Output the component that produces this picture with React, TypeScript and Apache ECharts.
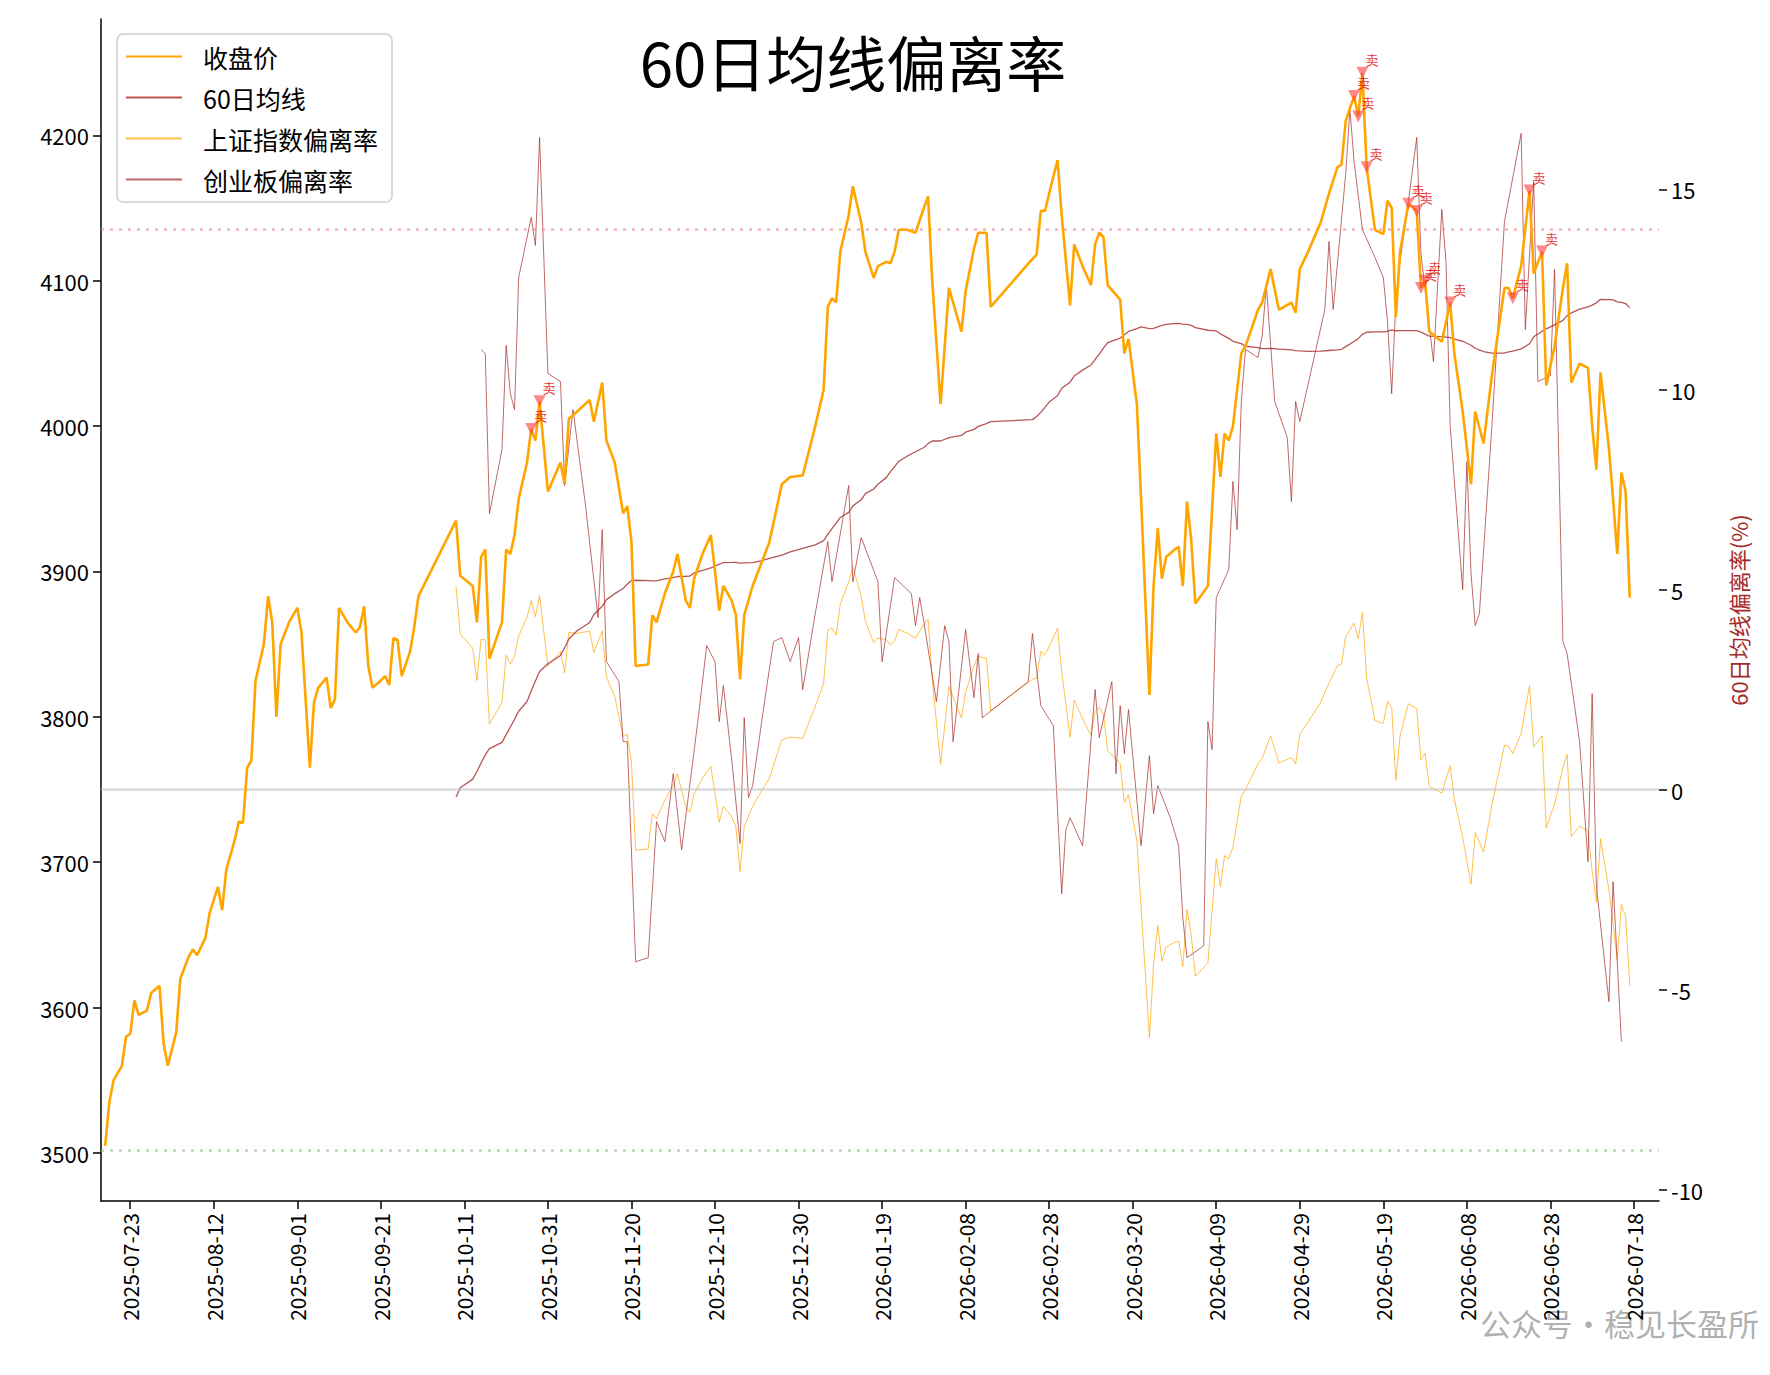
import { useEffect, useRef } from 'react'
import * as echarts from 'echarts'

// 上证指数收盘价 (日期, 收盘)
const closeDates = [
  '2025-07-17', '2025-07-18', '2025-07-19', '2025-07-21', '2025-07-22', '2025-07-23', '2025-07-24', '2025-07-25', '2025-07-27', '2025-07-28', '2025-07-30', '2025-07-31',
  '2025-08-01', '2025-08-03', '2025-08-04', '2025-08-06', '2025-08-07', '2025-08-08', '2025-08-10', '2025-08-11', '2025-08-13', '2025-08-14', '2025-08-15', '2025-08-17',
  '2025-08-18', '2025-08-19', '2025-08-20', '2025-08-21', '2025-08-22', '2025-08-24', '2025-08-25', '2025-08-26', '2025-08-27', '2025-08-28', '2025-08-30',
  '2025-09-01', '2025-09-02', '2025-09-04', '2025-09-05', '2025-09-06', '2025-09-08', '2025-09-09', '2025-09-10', '2025-09-11', '2025-09-13', '2025-09-15', '2025-09-16',
  '2025-09-17', '2025-09-18', '2025-09-19', '2025-09-21', '2025-09-22', '2025-09-23', '2025-09-24', '2025-09-25', '2025-09-26', '2025-09-28', '2025-09-29', '2025-09-30',
  '2025-10-09', '2025-10-10', '2025-10-13', '2025-10-14', '2025-10-15', '2025-10-16', '2025-10-17', '2025-10-20', '2025-10-21', '2025-10-22', '2025-10-23', '2025-10-24',
  '2025-10-26', '2025-10-27', '2025-10-28', '2025-10-29', '2025-10-31', '2025-11-03', '2025-11-04', '2025-11-05', '2025-11-07', '2025-11-10', '2025-11-11', '2025-11-13',
  '2025-11-14', '2025-11-16', '2025-11-18', '2025-11-19', '2025-11-20', '2025-11-21', '2025-11-24', '2025-11-25', '2025-11-26', '2025-11-28', '2025-11-30', '2025-12-01',
  '2025-12-03', '2025-12-04', '2025-12-05', '2025-12-07', '2025-12-09', '2025-12-10', '2025-12-11', '2025-12-12', '2025-12-14', '2025-12-15', '2025-12-16', '2025-12-17',
  '2025-12-19', '2025-12-21', '2025-12-23', '2025-12-26', '2025-12-28', '2025-12-31', '2026-01-03', '2026-01-05', '2026-01-06', '2026-01-07', '2026-01-08', '2026-01-09',
  '2026-01-11', '2026-01-12', '2026-01-14', '2026-01-15', '2026-01-17', '2026-01-18', '2026-01-20', '2026-01-21', '2026-01-22', '2026-01-23', '2026-01-25', '2026-01-27',
  '2026-01-29', '2026-01-30', '2026-01-31', '2026-02-02', '2026-02-04', '2026-02-07', '2026-02-08', '2026-02-10', '2026-02-11', '2026-02-13', '2026-02-14', '2026-02-24',
  '2026-02-25', '2026-02-26', '2026-02-27', '2026-02-28', '2026-03-02', '2026-03-03', '2026-03-05', '2026-03-06', '2026-03-08', '2026-03-10', '2026-03-11', '2026-03-12',
  '2026-03-13', '2026-03-14', '2026-03-17', '2026-03-18', '2026-03-19', '2026-03-21', '2026-03-22', '2026-03-24', '2026-03-25', '2026-03-26', '2026-03-27', '2026-03-28',
  '2026-03-30', '2026-03-31', '2026-04-01', '2026-04-02', '2026-04-03', '2026-04-04', '2026-04-07', '2026-04-09', '2026-04-10', '2026-04-11', '2026-04-12', '2026-04-13',
  '2026-04-15', '2026-04-16', '2026-04-19', '2026-04-20', '2026-04-22', '2026-04-24', '2026-04-27', '2026-04-28', '2026-04-29', '2026-05-01', '2026-05-04', '2026-05-06',
  '2026-05-08', '2026-05-09', '2026-05-10', '2026-05-12', '2026-05-13', '2026-05-14', '2026-05-15', '2026-05-17', '2026-05-19', '2026-05-20', '2026-05-21', '2026-05-22',
  '2026-05-23', '2026-05-25', '2026-05-27', '2026-05-28', '2026-05-29', '2026-05-30', '2026-06-02', '2026-06-04', '2026-06-05', '2026-06-07', '2026-06-09', '2026-06-10',
  '2026-06-12', '2026-06-14', '2026-06-17', '2026-06-18', '2026-06-19', '2026-06-21', '2026-06-23', '2026-06-24', '2026-06-26', '2026-06-27', '2026-06-29', '2026-07-01',
  '2026-07-02', '2026-07-03', '2026-07-05', '2026-07-07', '2026-07-08', '2026-07-09', '2026-07-10', '2026-07-12', '2026-07-13', '2026-07-14', '2026-07-15', '2026-07-16',
  '2026-07-17',
]
const closeValues = [
  3505, 3535, 3550, 3560, 3580, 3582, 3605, 3595, 3598, 3610, 3615, 3575,
  3560, 3583, 3620, 3635, 3640, 3636, 3648, 3665, 3683, 3667, 3695, 3715,
  3728, 3727, 3765, 3770, 3825, 3850, 3883, 3865, 3800, 3850, 3865,
  3875, 3858, 3765, 3810, 3820, 3827, 3806, 3812, 3875, 3865, 3858, 3862,
  3876, 3835, 3820, 3825, 3828, 3822, 3854, 3853, 3828, 3845, 3862, 3883,
  3935, 3897, 3890, 3865, 3910, 3915, 3840, 3865, 3915, 3912, 3925, 3950,
  3975, 3998, 3990, 4017, 3955, 3975, 3960, 4005, 4010, 4018, 4003, 4030,
  3990, 3975, 3940, 3945, 3920, 3835, 3836, 3870, 3865, 3885, 3900, 3912,
  3880, 3875, 3895, 3912, 3925, 3900, 3873, 3890, 3880, 3870, 3826, 3870,
  3890, 3905, 3920, 3960, 3965, 3966, 4000, 4025, 4082, 4088, 4085, 4120,
  4145, 4165, 4140, 4120, 4102, 4110, 4113, 4112, 4120, 4135, 4135, 4133,
  4150, 4158, 4100, 4015, 4095, 4065, 4093, 4122, 4133, 4133, 4082, 4115,
  4118, 4148, 4148, 4160, 4183, 4145, 4083, 4125, 4110, 4097, 4125, 4133,
  4130, 4097, 4087, 4050, 4060, 4015, 3950, 3815, 3890, 3930, 3895, 3910,
  3915, 3917, 3890, 3948, 3922, 3878, 3890, 3995, 3965, 3995, 3990, 4000,
  4050, 4055, 4080, 4085, 4108, 4080, 4085, 4078, 4108, 4120, 4140, 4160,
  4178, 4180, 4210, 4227, 4213, 4243, 4178, 4135, 4132, 4155, 4150, 4075,
  4120, 4153, 4148, 4095, 4100, 4065, 4058, 4085, 4050, 4010, 3960, 4010,
  3988, 4035, 4095, 4095, 4088, 4110, 4162, 4105, 4120, 4028, 4055, 4095,
  4112, 4030, 4043, 4040, 4000, 3970, 4037, 3985, 3950, 3912, 3968, 3955,
  3882,
]

// 创业板偏离率 (%)
const cybDates = [
  '2025-10-15', '2025-10-16', '2025-10-17', '2025-10-20', '2025-10-21', '2025-10-22', '2025-10-23', '2025-10-24', '2025-10-27', '2025-10-28', '2025-10-29', '2025-10-31',
  '2025-11-03', '2025-11-04', '2025-11-06', '2025-11-09', '2025-11-12', '2025-11-13', '2025-11-14', '2025-11-17', '2025-11-18', '2025-11-19', '2025-11-21', '2025-11-24',
  '2025-11-26', '2025-11-28', '2025-11-30', '2025-12-02', '2025-12-06', '2025-12-08', '2025-12-10', '2025-12-11', '2025-12-12', '2025-12-14', '2025-12-16', '2025-12-17',
  '2025-12-18', '2025-12-19', '2025-12-22', '2025-12-24', '2025-12-26', '2025-12-28', '2025-12-30', '2025-12-31', '2026-01-03', '2026-01-06', '2026-01-07', '2026-01-11',
  '2026-01-12', '2026-01-14', '2026-01-18', '2026-01-19', '2026-01-22', '2026-01-26', '2026-01-27', '2026-01-28', '2026-01-29', '2026-02-01', '2026-02-03', '2026-02-04',
  '2026-02-05', '2026-02-08', '2026-02-10', '2026-02-11', '2026-02-12', '2026-02-23', '2026-02-24', '2026-02-26', '2026-03-01', '2026-03-03', '2026-03-04', '2026-03-05',
  '2026-03-08', '2026-03-11', '2026-03-12', '2026-03-15', '2026-03-16', '2026-03-17', '2026-03-18', '2026-03-19', '2026-03-22', '2026-03-24', '2026-03-25', '2026-03-26',
  '2026-03-29', '2026-03-31', '2026-04-01', '2026-04-02', '2026-04-06', '2026-04-07', '2026-04-08', '2026-04-09', '2026-04-12', '2026-04-13', '2026-04-14', '2026-04-15',
  '2026-04-16', '2026-04-19', '2026-04-20', '2026-04-21', '2026-04-23', '2026-04-26', '2026-04-27', '2026-04-28', '2026-04-29', '2026-05-05', '2026-05-06', '2026-05-07',
  '2026-05-10', '2026-05-11', '2026-05-12', '2026-05-14', '2026-05-17', '2026-05-19', '2026-05-20', '2026-05-21', '2026-05-22', '2026-05-23', '2026-05-25', '2026-05-27',
  '2026-05-28', '2026-05-31', '2026-06-02', '2026-06-03', '2026-06-04', '2026-06-07', '2026-06-08', '2026-06-09', '2026-06-10', '2026-06-11', '2026-06-14', '2026-06-17',
  '2026-06-21', '2026-06-22', '2026-06-24', '2026-06-25', '2026-06-28', '2026-06-29', '2026-07-01', '2026-07-02', '2026-07-05', '2026-07-07', '2026-07-08', '2026-07-09',
  '2026-07-12', '2026-07-13', '2026-07-15',
]
const cybValues = [
  11.0, 10.9, 6.9, 8.5, 11.1, 9.9, 9.5, 12.8, 14.3, 13.6, 16.3, 10.4,
  10.2, 7.6, 9.5, 7.1, 4.3, 6.5, 3.2, 2.7, 1.2, 1.2, -4.3, -4.2,
  -0.8, -1.3, 0.4, -1.5, 1.8, 3.6, 3.2, 1.7, 2.6, 0.75, -1.35, 1.8,
  -0.2, 0.1, 2.3, 3.7, 3.8, 3.2, 3.8, 2.5, 4.4, 6.2, 5.2, 7.6,
  5.2, 6.3, 5.2, 3.2, 5.3, 4.9, 4.1, 4.8, 4.2, 2.2, 4.1, 3.7,
  1.2, 4.0, 2.3, 3.4, 1.8, 2.7, 3.9, 2.1, 1.6, -2.6, -1.0, -0.7,
  -1.4, 2.5, 1.3, 2.7, 0.4, 2.1, 0.9, 2.0, -1.4, 0.85, -0.6, 0.1,
  -0.7, -1.4, -3.2, -4.2, -3.9, 1.7, 1.0, 4.8, 5.5, 7.7, 6.5, 9.7,
  11.0, 10.8, 11.35, 12.6, 9.7, 8.8, 7.2, 9.7, 9.2, 12.0, 13.7, 12.0,
  15.4, 17.0, 15.7, 14.0, 13.3, 12.8, 11.7, 9.9, 12.2, 13.2, 14.7, 16.3,
  13.4, 10.7, 14.5, 13.2, 9.1, 5.0, 8.2, 5.4, 4.1, 4.4, 9.1, 14.2,
  16.4, 11.5, 15.2, 10.2, 10.35, 13.0, 3.7, 3.4, 1.2, -1.8, 2.4, -2.4,
  -5.3, -2.3, -6.3,
]

// 卖出信号日期
const sellDates = [
  '2025-10-27', '2025-10-29', '2026-05-12', '2026-05-13', '2026-05-14', '2026-05-15', '2026-05-25', '2026-05-27',
  '2026-05-28', '2026-05-29', '2026-06-04', '2026-06-19', '2026-06-23', '2026-06-26',
]

const leftTicks = [3500, 3600, 3700, 3800, 3900, 4000, 4100, 4200]
const rightTicks = [-10, -5, 0, 5, 10, 15]
const dateTicks = [
  '2025-07-23', '2025-08-12', '2025-09-01', '2025-09-21', '2025-10-11', '2025-10-31', '2025-11-20', '2025-12-10', '2025-12-30', '2026-01-19',
  '2026-02-08', '2026-02-28', '2026-03-20', '2026-04-09', '2026-04-29', '2026-05-19', '2026-06-08', '2026-06-28', '2026-07-18',
]

const MA_WINDOW = 60
const UPPER = 14
const LOWER = -9

const FONT = '"Noto Sans CJK SC", "Noto Sans", sans-serif'
const ts = (d: string) => new Date(d + 'T00:00:00').getTime()
const pad = (n: number) => String(n).padStart(2, '0')
const fmt = (v: number) => {
  const d = new Date(v)
  return `${d.getFullYear()}-${pad(d.getMonth() + 1)}-${pad(d.getDate())}`
}

export default function App() {
  const chartRef = useRef<HTMLDivElement | null>(null)

  useEffect(() => {
    if (!chartRef.current) {
      return
    }
    document.body.style.margin = '0'

    const chart = echarts.init(chartRef.current, null, { renderer: 'svg' })

    const closeData = closeDates.map((d, i) => [ts(d), closeValues[i]])
    const maData: number[][] = []
    const devData: number[][] = []
    for (let i = MA_WINDOW - 1; i < closeValues.length; i++) {
      let sum = 0
      for (let j = i - MA_WINDOW + 1; j <= i; j++) sum += closeValues[j]
      const ma = sum / MA_WINDOW
      maData.push([ts(closeDates[i]), ma])
      devData.push([ts(closeDates[i]), ((closeValues[i] - ma) / ma) * 100])
    }
    const cybData = cybDates.map((d, i) => [ts(d), cybValues[i]])
    const sellData = sellDates.map((d) => [ts(d), closeValues[closeDates.indexOf(d)]])
    const tickTs = dateTicks.map(ts)

    chart.setOption({
      animation: false,
      textStyle: { fontFamily: FONT },
      grid: { left: 101, right: 111, top: 19, bottom: 174 },
      legend: {
        orient: 'vertical',
        left: 117,
        top: 34,
        padding: [10, 14, 10, 8],
        itemWidth: 56,
        itemHeight: 14,
        itemGap: 16,
        itemStyle: { opacity: 0 },
        backgroundColor: '#fff',
        borderColor: '#d0d0d0',
        borderWidth: 1.5,
        borderRadius: 6,
        textStyle: { fontSize: 25, color: '#000', fontFamily: FONT, padding: [0, 0, 0, 16] },
        data: ['收盘价', '60日均线', '上证指数偏离率', '创业板偏离率'],
      },
      graphic: [
        {
          type: 'text',
          x: 853,
          y: 60,
          style: { text: '60日均线偏离率', fontSize: 60, fontFamily: FONT, fill: '#000', textAlign: 'center', textVerticalAlign: 'middle' },
        },
        {
          type: 'text',
          x: 1759,
          y: 1322,
          style: { text: '公众号•稳见长盈所', fontSize: 31, fontFamily: FONT, fill: 'rgba(150,150,150,0.75)', textAlign: 'right', textVerticalAlign: 'middle' },
        },
      ],
      xAxis: {
        type: 'value',
        min: ts('2025-07-16'),
        max: ts('2026-07-24'),
        splitLine: { show: false },
        axisLine: { onZero: false, lineStyle: { color: '#000', width: 1.5 } },
        axisTick: { length: 8, lineStyle: { color: '#000', width: 1.5 }, customValues: tickTs },
        axisLabel: {
          customValues: tickTs,
          rotate: 90,
          fontSize: 21,
          color: '#000',
          margin: 12,
          formatter: (v: number) => fmt(v),
        },
      },
      yAxis: [
        {
          type: 'value',
          min: 3467,
          max: 4280,
          splitLine: { show: false },
          axisLine: { show: true, lineStyle: { color: '#000', width: 1.5 } },
          axisTick: { show: true, length: 8, lineStyle: { color: '#000', width: 1.5 }, customValues: leftTicks },
          axisLabel: { customValues: leftTicks, fontSize: 22, color: '#000', margin: 12, formatter: (v: number) => String(v) },
        },
        {
          type: 'value',
          position: 'right',
          min: -10.28,
          max: 19.26,
          splitLine: { show: false },
          axisLine: { show: false },
          axisTick: { show: true, length: 8, lineStyle: { color: '#000', width: 1.5 }, customValues: rightTicks },
          axisLabel: { customValues: rightTicks, fontSize: 22, color: '#000', margin: 12, formatter: (v: number) => String(v) },
          name: '60日均线偏离率(%)',
          nameLocation: 'middle',
          nameRotate: 90,
          nameGap: 68,
          nameTextStyle: { color: '#a52a2a', fontSize: 22, fontFamily: FONT },
        },
      ],
      series: [
        {
          name: '收盘价',
          type: 'line',
          yAxisIndex: 0,
          symbol: 'none',
          data: closeData,
          lineStyle: { color: '#ffa500', width: 2.6 },
          itemStyle: { color: '#ffa500' },
          z: 5,
        },
        {
          name: '60日均线',
          type: 'line',
          yAxisIndex: 0,
          symbol: 'none',
          data: maData,
          lineStyle: { color: 'rgba(165,42,42,0.8)', width: 1.3 },
          itemStyle: { color: 'rgba(165,42,42,0.8)' },
          z: 4,
        },
        {
          name: '上证指数偏离率',
          type: 'line',
          yAxisIndex: 1,
          symbol: 'none',
          data: devData,
          lineStyle: { color: 'rgba(255,165,0,0.7)', width: 1 },
          itemStyle: { color: 'rgba(255,165,0,0.7)' },
          z: 3,
          markLine: {
            silent: true,
            symbol: 'none',
            label: { show: false },
            data: [
              { yAxis: UPPER, lineStyle: { color: 'rgba(240,128,140,0.6)', type: [3, 6], width: 2.5 } },
              { yAxis: LOWER, lineStyle: { color: 'rgba(120,190,110,0.55)', type: [3, 6], width: 2.5 } },
              { yAxis: 0, lineStyle: { color: 'rgba(190,190,190,0.55)', type: 'solid', width: 2.5 } },
            ],
          },
        },
        {
          name: '创业板偏离率',
          type: 'line',
          yAxisIndex: 1,
          symbol: 'none',
          data: cybData,
          lineStyle: { color: 'rgba(165,42,42,0.7)', width: 1 },
          itemStyle: { color: 'rgba(165,42,42,0.7)' },
          z: 3,
        },
        {
          name: '卖出',
          type: 'scatter',
          yAxisIndex: 0,
          symbol: 'triangle',
          symbolRotate: 180,
          symbolSize: 12,
          data: sellData,
          itemStyle: { color: 'rgba(255,60,60,0.75)' },
          label: { show: true, formatter: '卖', position: [9, -14], fontSize: 13, color: '#e00000', fontFamily: FONT },
          labelLayout: { hideOverlap: false },
          z: 6,
        },
      ],
    })

    return () => {
      chart.dispose()
    }
  }, [])

  return <div ref={chartRef} style={{ width: 1770, height: 1375 }} />
}
